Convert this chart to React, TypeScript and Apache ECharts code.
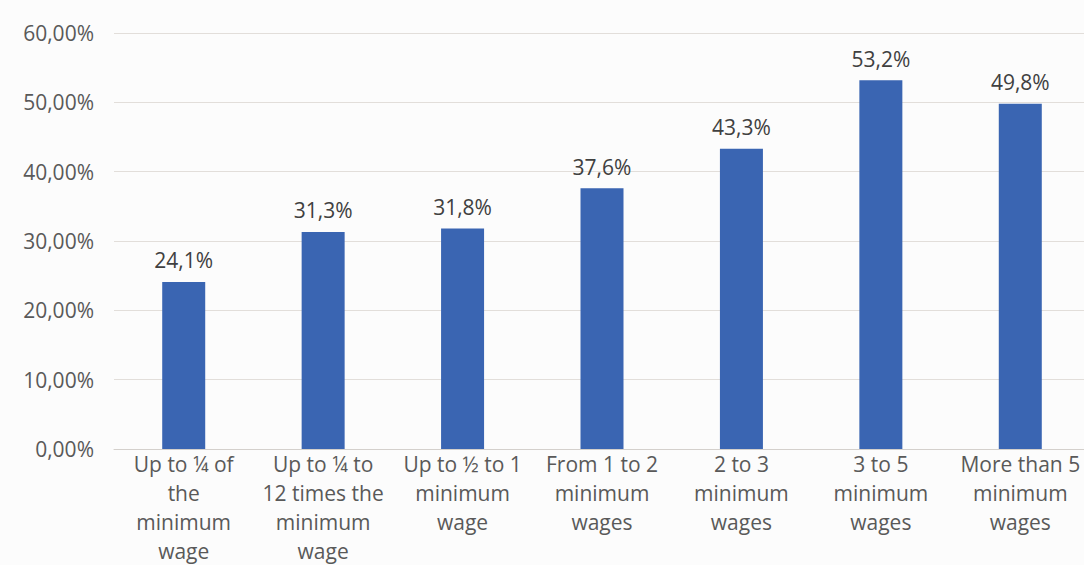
import React, { useEffect, useRef } from "react";
import * as echarts from "echarts";

const categories = [
  "Up to ¼ of\nthe\nminimum\nwage",
  "Up to ¼ to\n12 times the\nminimum\nwage",
  "Up to ½ to 1\nminimum\nwage",
  "From 1 to 2\nminimum\nwages",
  "2 to 3\nminimum\nwages",
  "3 to 5\nminimum\nwages",
  "More than 5\nminimum\nwages",
];
const values = [24.1, 31.3, 31.8, 37.6, 43.3, 53.2, 49.8];
const yTicks = { min: 0, max: 60, interval: 10 };

export default function App() {
  const ref = useRef<HTMLDivElement>(null);
  useEffect(() => {
    const chart = echarts.init(ref.current!, null, { renderer: "svg" });
    const font = "'Open Sans', Lato, sans-serif";
    chart.setOption({
      animation: false,
      backgroundColor: "#fcfcfc",
      grid: { left: 114, right: 0, top: 33, bottom: 113 },
      xAxis: {
        type: "category",
        data: categories,
        axisLine: { show: true, lineStyle: { color: "#d4d0cc", width: 1 } },
        axisTick: { show: false },
        axisLabel: {
          interval: 0,
          color: "#595959",
          fontFamily: font,
          fontSize: 21,
          lineHeight: 29,
          margin: 0,
          align: "center",
          verticalAlign: "top",
        },
      },
      yAxis: {
        type: "value",
        min: yTicks.min,
        max: yTicks.max,
        interval: yTicks.interval,
        axisLine: { show: false },
        axisTick: { show: false },
        splitLine: { lineStyle: { color: "#e2deda", width: 1 } },
        axisLabel: {
          color: "#595959",
          fontFamily: font,
          fontSize: 21,
          margin: 20,
          formatter: (v: number) => v.toFixed(2).replace(".", ",") + "%",
        },
      },
      series: [
        {
          type: "bar",
          data: values,
          barWidth: 43,
          itemStyle: { color: "#3a65b2" },
          label: {
            show: true,
            position: "top",
            distance: 11,
            color: "#404040",
            fontFamily: font,
            fontSize: 21,
            formatter: (p: any) => p.value.toFixed(1).replace(".", ",") + "%",
          },
        },
      ],
    });
    return () => chart.dispose();
  }, []);
  return (
    <div
      ref={ref}
      style={{ position: "fixed", left: 0, top: 0, width: 1090, height: 565 }}
    />
  );
}
